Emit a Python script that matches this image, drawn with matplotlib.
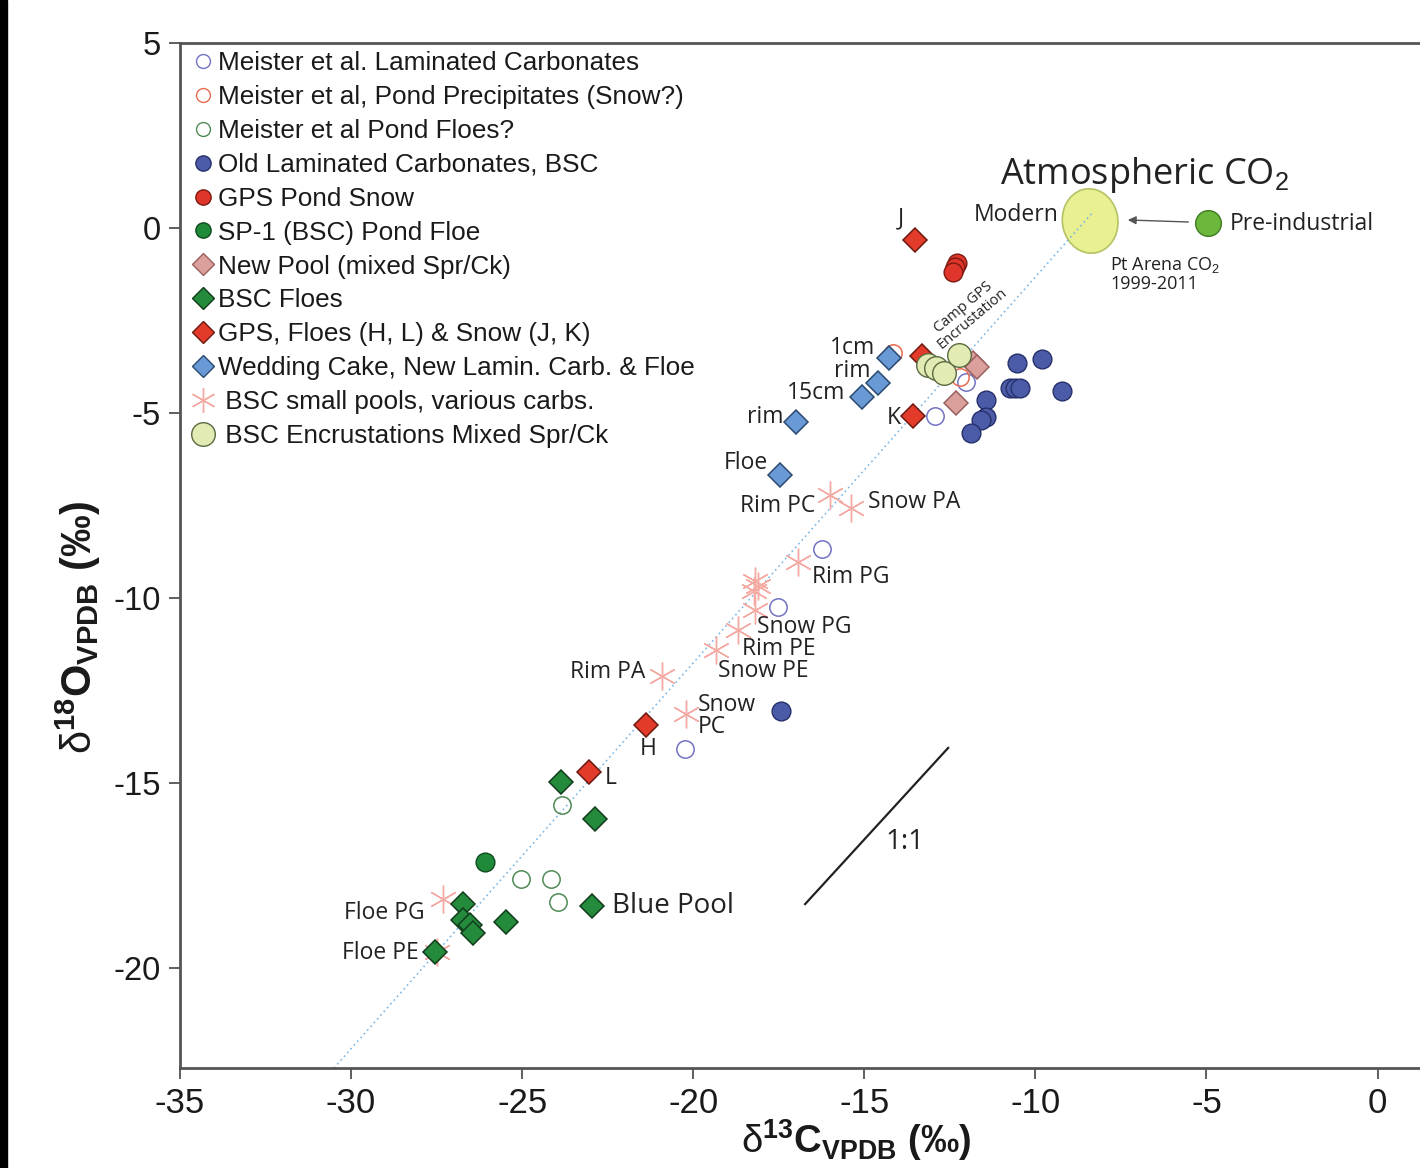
import matplotlib
matplotlib.use("Agg")
import matplotlib.pyplot as plt
from matplotlib.lines import Line2D
from matplotlib.patches import Ellipse, Rectangle

plt.rcParams['mathtext.fontset'] = 'custom'
plt.rcParams['mathtext.rm'] = 'Liberation Sans'
plt.rcParams['mathtext.bf'] = 'Liberation Sans:bold'
plt.rcParams['axes.unicode_minus'] = False

# --- data (d13C, d18O) ---
meister_lam_x = [-16.23, -17.52, -20.24, -12.93, -12.02]
meister_lam_y = [-8.68, -10.24, -14.08, -5.08, -4.16]

meister_precip_x = [-14.16, -12.20]
meister_precip_y = [-3.38, -4.03]

meister_floe_x = [-23.83, -25.03, -24.16, -23.95]
meister_floe_y = [-15.59, -17.59, -17.59, -18.22]

old_lam_x = [-10.53, -9.80, -10.74, -10.59, -10.45, -9.22, -11.44, -11.44, -11.59, -11.88, -17.43]
old_lam_y = [-3.65, -3.54, -4.32, -4.32, -4.32, -4.41, -4.65, -5.11, -5.19, -5.54, -13.05]

gps_snow_x = [-12.30, -12.35, -12.40]
gps_snow_y = [-0.95, -1.05, -1.20]

sp1_x = [-26.08]
sp1_y = [-17.14]

new_pool_x = [-11.82, -11.70, -12.32]
new_pool_y = [-3.65, -3.76, -4.73]

bsc_floe_x = [-23.86, -22.87, -22.96, -25.47, -26.73, -26.73, -26.52, -26.44, -27.55]
bsc_floe_y = [-14.97, -15.97, -18.32, -18.76, -18.27, -18.70, -18.84, -19.05, -19.57]

gps_floe_x = [-13.52, -13.31, -13.57, -21.38, -23.04]
gps_floe_y = [-0.32, -3.46, -5.08, -13.43, -14.70]

wedding_x = [-14.28, -14.60, -15.06, -17.00, -17.46]
wedding_y = [-3.51, -4.19, -4.57, -5.24, -6.68]

pools_x = [-16.00, -15.39, -16.93, -18.19, -18.10, -18.22, -18.19, -18.69, -19.33, -20.91, -20.21, -27.31, -27.49]
pools_y = [-7.22, -7.57, -9.03, -9.55, -9.68, -9.80, -10.32, -10.86, -11.41, -12.11, -13.14, -18.14, -19.57]

encrust_x = [-13.14, -12.90, -12.67, -12.23]
encrust_y = [-3.70, -3.78, -3.92, -3.43]

modern_co2 = (-8.40, 0.19)
preind_co2 = (-4.95, 0.14)

trend_x = [-30.5, -8.3]
trend_y = [-22.7, 0.45]
one_to_one_x = [-16.73, -12.55]
one_to_one_y = [-18.27, -14.05]

# --- figure ---
fig = plt.figure(figsize=(14.2, 11.68), dpi=100)
fig.patches.append(Rectangle((0, 0), 7 / 1420, 1, transform=fig.transFigure,
                             color='black', zorder=10))
ax = fig.add_axes([180 / 1420, 1 - 1068 / 1168, 1 - 180 / 1420, 1025 / 1168])
ax.set_xlim(-35, 1.24)
ax.set_ylim(-22.7, 5)

ax.add_patch(Ellipse(modern_co2, 1.62, 1.75, angle=15, fc='#e9f092',
                     ec='#b4c264', lw=1.2, zorder=0.8))
ax.plot(trend_x, trend_y, ls=(0, (1, 2)), color='#7ab8e8', lw=1.2, zorder=1)
ax.plot(one_to_one_x, one_to_one_y, color='#222222', lw=1.6, zorder=1)

open_kw = dict(ls='none', marker='o', ms=12.5, mfc='none', mew=1.1, zorder=3)
ax.plot(meister_lam_x, meister_lam_y, mec='#7272c4', **open_kw)
ax.plot(meister_precip_x, meister_precip_y, mec='#e86a50', **open_kw)
ax.plot(meister_floe_x, meister_floe_y, mec='#4f8a55', **open_kw)

ax.plot(pools_x, pools_y, ls='none', marker=(6, 2, 0), ms=20, mec='#f4aaa2',
        mew=1.0, zorder=2)

dia_kw = dict(ls='none', marker='D', ms=12.5, mew=1.1, zorder=4)
ax.plot(bsc_floe_x, bsc_floe_y, mfc='#248a3c', mec='#123c1c', **dia_kw)
ax.plot(gps_floe_x, gps_floe_y, mfc='#e43a2a', mec='#6a1a10', **dia_kw)
ax.plot(wedding_x, wedding_y, mfc='#6a9ad6', mec='#2a4a70', **dia_kw)

circ_kw = dict(ls='none', marker='o', ms=13.5, mew=1.0, zorder=5)
ax.plot(old_lam_x, old_lam_y, mfc='#4b5ba8', mec='#25306a', **circ_kw)
ax.plot(gps_snow_x, gps_snow_y, mfc='#e0352b', mec='#7a1a10', **circ_kw)
ax.plot(sp1_x, sp1_y, mfc='#1f8a3a', mec='#0f4a1f', **circ_kw)
ax.plot(encrust_x, encrust_y, ls='none', marker='o', ms=17, mfc='#e2ebb4',
        mec='#5a6a40', mew=1.0, zorder=6)
ax.plot(new_pool_x, new_pool_y, mfc='#dca09c', mec='#9a6060', **dia_kw)

ax.plot(*preind_co2, marker='o', ms=18.5, mfc='#6cb83c', mec='#3f7a22', mew=1.0, zorder=5)
ax.annotate('', xy=(-7.38, 0.22), xytext=(-5.45, 0.16),
            arrowprops=dict(arrowstyle='-|>', color='#555555', lw=1.0,
                            mutation_scale=12), zorder=4)

# --- labels ---
lab = dict(family='Open Sans', fontsize=16.5, color='#222222', va='center')
ax.text(-13.92, 0.27, 'J', ha='center', **lab)
ax.text(-9.33, 0.35, 'Modern', ha='right', **lab)
ax.text(-4.31, 0.11, 'Pre-industrial', ha='left', **lab)
ax.text(-11.03, 1.43, r'Atmospheric CO$_2$', ha='left', family='Open Sans',
        fontsize=26, color='#222222', va='center')
ax.text(-7.81, -1.0, r'Pt Arena CO$_2$', ha='left', family='Open Sans',
        fontsize=13, color='#222222', va='center')
ax.text(-7.81, -1.51, '1999-2011', ha='left', family='Open Sans',
        fontsize=13, color='#222222', va='center')
ax.text(-11.97, -2.30, 'Camp GPS\nEncrustation', ha='center', va='center',
        family='Open Sans', fontsize=10.5, color='#222222', rotation=40,
        linespacing=0.9)
ax.text(-14.68, -3.24, '1cm', ha='right', **lab)
ax.text(-14.83, -3.86, 'rim', ha='right', **lab)
ax.text(-15.56, -4.46, '15cm', ha='right', **lab)
ax.text(-13.95, -5.14, 'K', ha='right', **lab)
ax.text(-17.37, -5.11, 'rim', ha='right', **lab)
ax.text(-17.81, -6.35, 'Floe', ha='right', **lab)
ax.text(-16.44, -7.51, 'Rim PC', ha='right', **lab)
ax.text(-14.89, -7.41, 'Snow PA', ha='left', **lab)
ax.text(-16.53, -9.43, 'Rim PG', ha='left', **lab)
ax.text(-18.13, -10.78, 'Snow PG', ha='left', **lab)
ax.text(-18.57, -11.37, 'Rim PE', ha='left', **lab)
ax.text(-19.27, -11.97, 'Snow PE', ha='left', **lab)
ax.text(-21.41, -12.0, 'Rim PA', ha='right', **lab)
ax.text(-19.86, -13.19, 'Snow\nPC', ha='left', linespacing=0.85, **lab)
ax.text(-21.32, -14.08, 'H', ha='center', **lab)
ax.text(-22.58, -14.86, 'L', ha='left', **lab)
ax.text(-27.84, -18.51, 'Floe PG', ha='right', **lab)
ax.text(-28.01, -19.59, 'Floe PE', ha='right', **lab)
ax.text(-22.37, -18.32, 'Blue Pool', ha='left', family='Open Sans',
        fontsize=20, color='#222222', va='center')
ax.text(-13.81, -16.59, '1:1', ha='center', family='Open Sans',
        fontsize=20, color='#222222', va='center')

# --- legend ---
handles = [
    Line2D([], [], ls='none', marker='o', ms=10, mfc='none', mec='#7272c4', mew=1.0),
    Line2D([], [], ls='none', marker='o', ms=10, mfc='none', mec='#e86a50', mew=1.0),
    Line2D([], [], ls='none', marker='o', ms=10, mfc='none', mec='#4f8a55', mew=1.0),
    Line2D([], [], ls='none', marker='o', ms=11, mfc='#4b5ba8', mec='#25306a'),
    Line2D([], [], ls='none', marker='o', ms=11, mfc='#e0352b', mec='#7a1a10'),
    Line2D([], [], ls='none', marker='o', ms=11, mfc='#1f8a3a', mec='#0f4a1f'),
    Line2D([], [], ls='none', marker='D', ms=11, mfc='#dca09c', mec='#9a6060'),
    Line2D([], [], ls='none', marker='D', ms=11, mfc='#248a3c', mec='#123c1c'),
    Line2D([], [], ls='none', marker='D', ms=11, mfc='#e43a2a', mec='#6a1a10'),
    Line2D([], [], ls='none', marker='D', ms=11, mfc='#6a9ad6', mec='#2a4a70'),
    Line2D([], [], ls='none', marker=(6, 2, 0), ms=18, mec='#f4aaa2', mew=1.0),
    Line2D([], [], ls='none', marker='o', ms=17, mfc='#e2ebb4', mec='#5a6a40'),
]
labels = [
    'Meister et al. Laminated Carbonates',
    'Meister et al, Pond Precipitates (Snow?)',
    'Meister et al Pond Floes?',
    'Old Laminated Carbonates, BSC',
    'GPS Pond Snow',
    'SP-1 (BSC) Pond Floe',
    'New Pool (mixed Spr/Ck)',
    'BSC Floes',
    'GPS, Floes (H, L) & Snow (J, K)',
    'Wedding Cake, New Lamin. Carb. & Floe',
    ' BSC small pools, various carbs.',
    ' BSC Encrustations Mixed Spr/Ck',
]
leg = ax.legend(handles, labels, loc='upper left', frameon=False,
                bbox_to_anchor=(192 / 1420, 1 - 51 / 1168),
                bbox_transform=fig.transFigure, borderpad=0, borderaxespad=0,
                handlelength=0.85, handletextpad=0.15, labelspacing=0.38,
                prop={'family': 'Liberation Sans', 'size': 18.8})
for t in leg.get_texts():
    t.set_color('#1a1a1a')

# --- axes styling ---
for side in ('left', 'bottom', 'top'):
    ax.spines[side].set_color('#555555')
    ax.spines[side].set_linewidth(2.0)
ax.spines['right'].set_visible(False)

ax.set_xticks(range(-35, 1, 5))
ax.set_yticks(range(-20, 6, 5))
ax.tick_params(axis='both', direction='out', length=8, width=1.2, color='#444444')
ax.tick_params(axis='y', pad=6, labelsize=23.5, labelcolor='#1a1a1a')
ax.tick_params(axis='x', pad=6, labelsize=25, labelcolor='#1a1a1a')
for t in ax.get_yticklabels():
    t.set_family('Liberation Sans')
for t in ax.get_xticklabels():
    t.set_family('Liberation Sans')

ax.set_xlabel(r'$\mathrm{\delta}^{\mathbf{13}}\mathbf{C}_{\mathbf{VPDB}}$ (‰)',
              family='Liberation Sans', fontweight='bold', fontsize=27.5,
              color='#1a1a1a')
ax.set_ylabel(r'$\mathrm{\delta}^{\mathbf{18}}\mathbf{O}_{\mathbf{VPDB}}$ (‰)',
              family='Liberation Sans', fontweight='bold', fontsize=30,
              color='#1a1a1a')
ax.xaxis.set_label_coords(0.545, -0.048)
ax.yaxis.set_label_coords(-0.062, 0.43)

fig.savefig('out.png', dpi=100)
